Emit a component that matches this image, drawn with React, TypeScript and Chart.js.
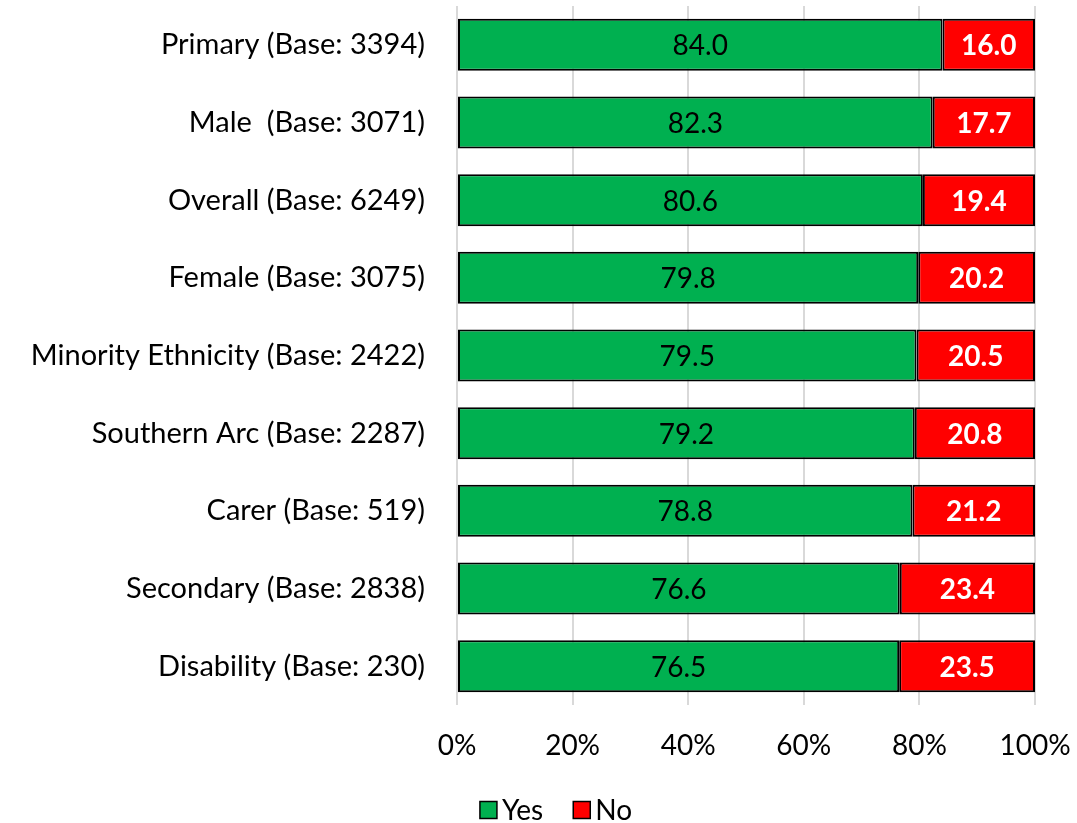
import React, { useEffect, useRef } from "react";
import { Chart, registerables } from "chart.js";

Chart.register(...registerables);

const categories = [
  "Primary (Base: 3394)",
  "Male  (Base: 3071)",
  "Overall (Base: 6249)",
  "Female (Base: 3075)",
  "Minority Ethnicity (Base: 2422)",
  "Southern Arc (Base: 2287)",
  "Carer (Base: 519)",
  "Secondary (Base: 2838)",
  "Disability (Base: 230)",
];
const yesValues = [84.0, 82.3, 80.6, 79.8, 79.5, 79.2, 78.8, 76.6, 76.5];
const noValues = [16.0, 17.7, 19.4, 20.2, 20.5, 20.8, 21.2, 23.4, 23.5];
const xTicks = [0, 20, 40, 60, 80, 100];

const FONT = "Lato, 'Open Sans', sans-serif";

const labelPlugin = {
  id: "barLabels",
  afterDatasetsDraw(chart: any) {
    const ctx = chart.ctx;
    ctx.save();
    ctx.textAlign = "center";
    ctx.textBaseline = "middle";
    chart.data.datasets.forEach((ds: any, di: number) => {
      const meta = chart.getDatasetMeta(di);
      meta.data.forEach((el: any, i: number) => {
        const v = ds.data[i];
        const cx = (el.x + el.base) / 2;
        if (di === 0) {
          ctx.font = `400 28px ${FONT}`;
          ctx.fillStyle = "#000000";
        } else {
          ctx.font = `700 28px ${FONT}`;
          ctx.fillStyle = "#ffffff";
        }
        ctx.fillText(v.toFixed(1), cx, el.y + 1.5);
      });
    });
    ctx.restore();
  },
};

const legendPlugin = {
  id: "customLegend",
  afterDraw(chart: any) {
    const ctx = chart.ctx;
    const datasets = chart.data.datasets;
    const box = 17;
    const gapText = 5;
    const gapItem = 30;
    const cy = 810;
    const centerX = 556;
    ctx.save();
    ctx.font = `400 28px ${FONT}`;
    ctx.textBaseline = "middle";
    ctx.textAlign = "left";
    const widths = datasets.map((d: any) => box + gapText + ctx.measureText(d.label).width);
    const total = widths.reduce((a: number, b: number) => a + b, 0) + gapItem * (datasets.length - 1);
    let x = centerX - total / 2;
    datasets.forEach((d: any, i: number) => {
      ctx.fillStyle = d.backgroundColor;
      ctx.fillRect(x, cy - box / 2, box, box);
      ctx.lineWidth = 1.5;
      ctx.strokeStyle = "#000000";
      ctx.strokeRect(x, cy - box / 2, box, box);
      ctx.fillStyle = "#000000";
      ctx.fillText(d.label, x + box + gapText, cy + 1);
      x += widths[i] + gapItem;
    });
    ctx.restore();
  },
};

export default function App() {
  const ref = useRef<HTMLCanvasElement | null>(null);
  useEffect(() => {
    if (!ref.current) return;
    const chart = new Chart(ref.current, {
      type: "bar",
      data: {
        labels: categories,
        datasets: [
          {
            label: "Yes",
            data: yesValues,
            backgroundColor: "#00B050",
            borderColor: "#000000",
            borderWidth: 2,
            borderSkipped: false,
            barPercentage: 0.67,
            categoryPercentage: 1,
          },
          {
            label: "No",
            data: noValues,
            backgroundColor: "#FF0000",
            borderColor: "#000000",
            borderWidth: 2,
            borderSkipped: false,
            barPercentage: 0.67,
            categoryPercentage: 1,
          },
        ],
      },
      options: {
        indexAxis: "y",
        animation: false,
        responsive: false,
        maintainAspectRatio: false,
        layout: { padding: { top: 6, right: 42, left: 0, bottom: 0 } },
        scales: {
          x: {
            stacked: true,
            min: 0,
            max: 100,
            afterBuildTicks: (scale: any) => {
              scale.ticks = xTicks.map((v) => ({ value: v }));
            },
            ticks: {
              callback: (v: any) => `${v}%`,
              font: { family: FONT, size: 28 },
              color: "#000000",
              padding: 24,
              maxRotation: 0,
            },
            grid: { color: "#d9d9d9", lineWidth: 2, drawTicks: false },
            border: { display: false },
            afterFit: (scale: any) => {
              scale.height = 118;
              scale.paddingLeft = 0;
              scale.paddingRight = 0;
            },
          },
          y: {
            stacked: true,
            ticks: {
              font: { family: FONT, size: 29 },
              color: "#000000",
              padding: 24,
            },
            grid: { display: false },
            border: { display: false },
            afterFit: (scale: any) => {
              scale.width = 457;
              scale.paddingTop = 0;
              scale.paddingBottom = 0;
            },
          },
        },
        plugins: {
          legend: { display: false },
          tooltip: { enabled: false },
        },
      },
      plugins: [labelPlugin, legendPlugin],
    });
    return () => chart.destroy();
  }, []);
  return (
    <div style={{ position: "fixed", left: 0, top: 0, width: 1077, height: 823, background: "#fff" }}>
      <canvas ref={ref} width={1077} height={823} style={{ width: 1077, height: 823 }} />
    </div>
  );
}
